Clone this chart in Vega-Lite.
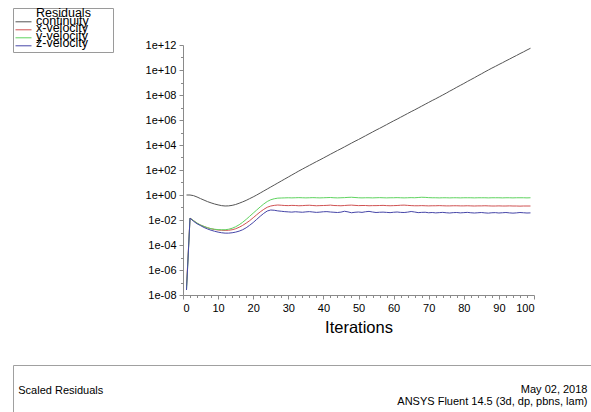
{
  "$schema": "https://vega.github.io/schema/vega-lite/v6.json",
  "padding": {"left": 12, "top": 7, "right": 0, "bottom": 0},
  "background": "white",
  "config": {"font": "Liberation Sans", "view": {"stroke": null}},
  "columns": 1,
  "spacing": 28,
  "concat": [
    {
      "width": 521,
      "height": 250,
      "data": {"values": [
        {"it":1,"continuity":1,"x-velocity":5.012e-8,"y-velocity":2.512e-8,"z-velocity":2.512e-8},
        {"it":2,"continuity":1,"x-velocity":0.01413,"y-velocity":0.01413,"z-velocity":0.01413},
        {"it":3,"continuity":0.891,"x-velocity":0.008913,"y-velocity":0.008913,"z-velocity":0.007943},
        {"it":4,"continuity":0.692,"x-velocity":0.005623,"y-velocity":0.005623,"z-velocity":0.005012},
        {"it":5,"continuity":0.513,"x-velocity":0.003981,"y-velocity":0.003981,"z-velocity":0.003548},
        {"it":6,"continuity":0.389,"x-velocity":0.00302,"y-velocity":0.00302,"z-velocity":0.002512},
        {"it":7,"continuity":0.295,"x-velocity":0.002399,"y-velocity":0.002399,"z-velocity":0.001905},
        {"it":8,"continuity":0.234,"x-velocity":0.001995,"y-velocity":0.001995,"z-velocity":0.001514},
        {"it":9,"continuity":0.191,"x-velocity":0.001738,"y-velocity":0.00182,"z-velocity":0.001259},
        {"it":10,"continuity":0.162,"x-velocity":0.001585,"y-velocity":0.001698,"z-velocity":0.001072},
        {"it":11,"continuity":0.141,"x-velocity":0.001514,"y-velocity":0.00166,"z-velocity":0.000955},
        {"it":12,"continuity":0.132,"x-velocity":0.001479,"y-velocity":0.00166,"z-velocity":0.0008913},
        {"it":13,"continuity":0.135,"x-velocity":0.001514,"y-velocity":0.00182,"z-velocity":0.0008913},
        {"it":14,"continuity":0.148,"x-velocity":0.00166,"y-velocity":0.002188,"z-velocity":0.000955},
        {"it":15,"continuity":0.174,"x-velocity":0.001995,"y-velocity":0.002884,"z-velocity":0.001072},
        {"it":16,"continuity":0.219,"x-velocity":0.00263,"y-velocity":0.004169,"z-velocity":0.001288},
        {"it":17,"continuity":0.282,"x-velocity":0.003715,"y-velocity":0.006607,"z-velocity":0.00166},
        {"it":18,"continuity":0.372,"x-velocity":0.005623,"y-velocity":0.01122,"z-velocity":0.002399},
        {"it":19,"continuity":0.513,"x-velocity":0.008913,"y-velocity":0.01995,"z-velocity":0.003802},
        {"it":20,"continuity":0.708,"x-velocity":0.01514,"y-velocity":0.03548,"z-velocity":0.00631},
        {"it":21,"continuity":1,"x-velocity":0.0263,"y-velocity":0.0631,"z-velocity":0.01122},
        {"it":22,"continuity":1.445,"x-velocity":0.04467,"y-velocity":0.1122,"z-velocity":0.01995},
        {"it":23,"continuity":2.089,"x-velocity":0.07079,"y-velocity":0.1905,"z-velocity":0.03388},
        {"it":24,"continuity":3.02,"x-velocity":0.1047,"y-velocity":0.302,"z-velocity":0.05248},
        {"it":25,"continuity":4.365,"x-velocity":0.1318,"y-velocity":0.4169,"z-velocity":0.0631},
        {"it":26,"continuity":6.31,"x-velocity":0.1479,"y-velocity":0.5012,"z-velocity":0.06026},
        {"it":27,"continuity":9.12,"x-velocity":0.1585,"y-velocity":0.5623,"z-velocity":0.0537},
        {"it":28,"continuity":13.18,"x-velocity":0.1514,"y-velocity":0.5754,"z-velocity":0.05012},
        {"it":29,"continuity":19.05,"x-velocity":0.1445,"y-velocity":0.5888,"z-velocity":0.04677},
        {"it":30,"continuity":27.54,"x-velocity":0.1413,"y-velocity":0.6026,"z-velocity":0.04467},
        {"it":31,"continuity":39.81,"x-velocity":0.1479,"y-velocity":0.5888,"z-velocity":0.04266},
        {"it":32,"continuity":57.54,"x-velocity":0.1445,"y-velocity":0.6026,"z-velocity":0.04571},
        {"it":33,"continuity":83.18,"x-velocity":0.138,"y-velocity":0.6166,"z-velocity":0.04365},
        {"it":34,"continuity":117.5,"x-velocity":0.1413,"y-velocity":0.6026,"z-velocity":0.04169},
        {"it":35,"continuity":166,"x-velocity":0.1479,"y-velocity":0.5888,"z-velocity":0.04467},
        {"it":36,"continuity":234.4,"x-velocity":0.1514,"y-velocity":0.6026,"z-velocity":0.04677},
        {"it":37,"continuity":331.1,"x-velocity":0.1445,"y-velocity":0.6166,"z-velocity":0.04365},
        {"it":38,"continuity":467.7,"x-velocity":0.138,"y-velocity":0.6026,"z-velocity":0.04074},
        {"it":39,"continuity":645.7,"x-velocity":0.1413,"y-velocity":0.5888,"z-velocity":0.04266},
        {"it":40,"continuity":912,"x-velocity":0.1445,"y-velocity":0.6026,"z-velocity":0.04571},
        {"it":41,"continuity":1288,"x-velocity":0.1479,"y-velocity":0.6166,"z-velocity":0.04677},
        {"it":42,"continuity":1820,"x-velocity":0.1549,"y-velocity":0.631,"z-velocity":0.04365},
        {"it":43,"continuity":2570,"x-velocity":0.1445,"y-velocity":0.6026,"z-velocity":0.04169},
        {"it":44,"continuity":3631,"x-velocity":0.1413,"y-velocity":0.5888,"z-velocity":0.03981},
        {"it":45,"continuity":5012,"x-velocity":0.138,"y-velocity":0.6026,"z-velocity":0.04266},
        {"it":46,"continuity":7079,"x-velocity":0.1445,"y-velocity":0.6166,"z-velocity":0.05012},
        {"it":47,"continuity":10000,"x-velocity":0.1514,"y-velocity":0.6457,"z-velocity":0.04467},
        {"it":48,"continuity":14130,"x-velocity":0.1549,"y-velocity":0.6607,"z-velocity":0.03802},
        {"it":49,"continuity":19950,"x-velocity":0.1479,"y-velocity":0.631,"z-velocity":0.04169},
        {"it":50,"continuity":27540,"x-velocity":0.1413,"y-velocity":0.6026,"z-velocity":0.04365},
        {"it":51,"continuity":38900,"x-velocity":0.1445,"y-velocity":0.5888,"z-velocity":0.04074},
        {"it":52,"continuity":54950,"x-velocity":0.1445,"y-velocity":0.6026,"z-velocity":0.04571},
        {"it":53,"continuity":77620,"x-velocity":0.138,"y-velocity":0.6026,"z-velocity":0.04898},
        {"it":54,"continuity":109600,"x-velocity":0.1413,"y-velocity":0.5888,"z-velocity":0.04365},
        {"it":55,"continuity":154900,"x-velocity":0.1413,"y-velocity":0.6026,"z-velocity":0.03981},
        {"it":56,"continuity":213800,"x-velocity":0.1445,"y-velocity":0.6166,"z-velocity":0.04169},
        {"it":57,"continuity":302000,"x-velocity":0.1479,"y-velocity":0.6026,"z-velocity":0.04266},
        {"it":58,"continuity":426600,"x-velocity":0.1413,"y-velocity":0.5888,"z-velocity":0.04074},
        {"it":59,"continuity":602600,"x-velocity":0.138,"y-velocity":0.6026,"z-velocity":0.0389},
        {"it":60,"continuity":851100,"x-velocity":0.1413,"y-velocity":0.6026,"z-velocity":0.04169},
        {"it":61,"continuity":1.175e6,"x-velocity":0.1445,"y-velocity":0.6166,"z-velocity":0.04365},
        {"it":62,"continuity":1.66e6,"x-velocity":0.1514,"y-velocity":0.6026,"z-velocity":0.04074},
        {"it":63,"continuity":2.344e6,"x-velocity":0.1549,"y-velocity":0.5888,"z-velocity":0.03981},
        {"it":64,"continuity":3.311e6,"x-velocity":0.1479,"y-velocity":0.6026,"z-velocity":0.04266},
        {"it":65,"continuity":4.677e6,"x-velocity":0.1413,"y-velocity":0.6166,"z-velocity":0.04786},
        {"it":66,"continuity":6.457e6,"x-velocity":0.138,"y-velocity":0.6026,"z-velocity":0.04365},
        {"it":67,"continuity":9.12e6,"x-velocity":0.138,"y-velocity":0.631,"z-velocity":0.0389},
        {"it":68,"continuity":1.288e7,"x-velocity":0.1413,"y-velocity":0.6607,"z-velocity":0.04074},
        {"it":69,"continuity":1.82e7,"x-velocity":0.138,"y-velocity":0.6457,"z-velocity":0.04169},
        {"it":70,"continuity":2.57e7,"x-velocity":0.1349,"y-velocity":0.6166,"z-velocity":0.03802},
        {"it":71,"continuity":3.631e7,"x-velocity":0.138,"y-velocity":0.6026,"z-velocity":0.03981},
        {"it":72,"continuity":5.012e7,"x-velocity":0.138,"y-velocity":0.6026,"z-velocity":0.03715},
        {"it":73,"continuity":7.079e7,"x-velocity":0.1413,"y-velocity":0.5888,"z-velocity":0.0389},
        {"it":74,"continuity":1e8,"x-velocity":0.138,"y-velocity":0.6026,"z-velocity":0.04074},
        {"it":75,"continuity":1.413e8,"x-velocity":0.1349,"y-velocity":0.6026,"z-velocity":0.03802},
        {"it":76,"continuity":2.042e8,"x-velocity":0.1349,"y-velocity":0.5888,"z-velocity":0.03631},
        {"it":77,"continuity":2.884e8,"x-velocity":0.138,"y-velocity":0.6026,"z-velocity":0.0389},
        {"it":78,"continuity":4.169e8,"x-velocity":0.138,"y-velocity":0.6026,"z-velocity":0.03981},
        {"it":79,"continuity":5.888e8,"x-velocity":0.1349,"y-velocity":0.5888,"z-velocity":0.03715},
        {"it":80,"continuity":8.318e8,"x-velocity":0.1349,"y-velocity":0.6026,"z-velocity":0.0389},
        {"it":81,"continuity":1.202e9,"x-velocity":0.138,"y-velocity":0.6026,"z-velocity":0.04074},
        {"it":82,"continuity":1.698e9,"x-velocity":0.1349,"y-velocity":0.6026,"z-velocity":0.03802},
        {"it":83,"continuity":2.399e9,"x-velocity":0.1318,"y-velocity":0.5888,"z-velocity":0.03631},
        {"it":84,"continuity":3.467e9,"x-velocity":0.1349,"y-velocity":0.6026,"z-velocity":0.03802},
        {"it":85,"continuity":4.898e9,"x-velocity":0.1349,"y-velocity":0.6026,"z-velocity":0.03981},
        {"it":86,"continuity":7.079e9,"x-velocity":0.138,"y-velocity":0.6026,"z-velocity":0.03715},
        {"it":87,"continuity":1e10,"x-velocity":0.1349,"y-velocity":0.5888,"z-velocity":0.03548},
        {"it":88,"continuity":1.413e10,"x-velocity":0.1318,"y-velocity":0.6026,"z-velocity":0.03802},
        {"it":89,"continuity":1.95e10,"x-velocity":0.1318,"y-velocity":0.6026,"z-velocity":0.0389},
        {"it":90,"continuity":2.754e10,"x-velocity":0.1349,"y-velocity":0.6026,"z-velocity":0.03631},
        {"it":91,"continuity":3.802e10,"x-velocity":0.1318,"y-velocity":0.5888,"z-velocity":0.03802},
        {"it":92,"continuity":5.37e10,"x-velocity":0.1318,"y-velocity":0.6026,"z-velocity":0.03981},
        {"it":93,"continuity":7.413e10,"x-velocity":0.1349,"y-velocity":0.6026,"z-velocity":0.03715},
        {"it":94,"continuity":1.047e11,"x-velocity":0.1318,"y-velocity":0.5888,"z-velocity":0.03548},
        {"it":95,"continuity":1.445e11,"x-velocity":0.1318,"y-velocity":0.6026,"z-velocity":0.03715},
        {"it":96,"continuity":2.042e11,"x-velocity":0.1288,"y-velocity":0.6026,"z-velocity":0.03981},
        {"it":97,"continuity":2.818e11,"x-velocity":0.1318,"y-velocity":0.6026,"z-velocity":0.03802},
        {"it":98,"continuity":3.981e11,"x-velocity":0.1318,"y-velocity":0.5888,"z-velocity":0.03631},
        {"it":99,"continuity":5.495e11,"x-velocity":0.1318,"y-velocity":0.6026,"z-velocity":0.03715}
      ]},
      "transform": [
        {"fold": ["continuity", "x-velocity", "y-velocity", "z-velocity"], "as": ["series", "value"]}
      ],
      "mark": {"type": "line", "strokeWidth": 1, "clip": true},
      "encoding": {
        "x": {
          "field": "it", "type": "quantitative",
          "scale": {"domain": [0, 100], "range": [170, 521], "nice": false, "zero": false},
          "axis": {
            "values": [0, 2, 4, 6, 8, 10, 12, 14, 16, 18, 20, 22, 24, 26, 28, 30, 32, 34, 36, 38, 40, 42, 44, 46, 48, 50, 52, 54, 56, 58, 60, 62, 64, 66, 68, 70, 72, 74, 76, 78, 80, 82, 84, 86, 88, 90, 92, 94, 96, 98, 100],
            "labelExpr": "datum.value % 10 === 0 ? datum.label : ''",
            "labelOverlap": false,
            "title": "Iterations", "titleFontSize": 16.5, "titleFontWeight": "normal", "titleColor": "black",
            "titlePadding": 6,
            "labelFontSize": 11, "labelColor": "black", "labelPadding": 3,
            "tickSize": {"condition": {"test": "datum.value % 10 === 0", "value": 4}, "value": 2.5},
            "tickColor": "#8a8a8a", "domainColor": "#8a8a8a", "grid": false
          }
        },
        "y": {
          "field": "value", "type": "quantitative",
          "scale": {"type": "log", "domain": [1e-8, 1e12], "nice": false},
          "axis": {
            "offset": -170,
            "values": [1e-8, 1e-7, 1e-6, 1e-5, 1e-4, 1e-3, 1e-2, 1e-1, 1, 10, 1e2, 1e3, 1e4, 1e5, 1e6, 1e7, 1e8, 1e9, 1e10, 1e11, 1e12],
            "labelExpr": "round(log(datum.value)/LN10) % 2 === 0 ? '1e' + (datum.value >= 1 ? '+' : '-') + (abs(round(log(datum.value)/LN10)) < 10 ? '0' : '') + abs(round(log(datum.value)/LN10)) : ''",
            "labelOverlap": false,
            "title": null,
            "labelFontSize": 11, "labelColor": "black", "labelPadding": 3,
            "tickSize": {"condition": {"test": "round(log(datum.value)/LN10) % 2 === 0", "value": 4}, "value": 2.5},
            "tickColor": "#8a8a8a", "domainColor": "#8a8a8a", "grid": false
          }
        },
        "color": {
          "field": "series", "type": "nominal",
          "scale": {"domain": ["Residuals", "continuity", "x-velocity", "y-velocity", "z-velocity"],
                    "range": ["transparent", "#555555", "#d05252", "#5fd35f", "#4646a8"]},
          "legend": {
            "title": ["Residuals\u2800\u2800", "continuity", "x-velocity", "y-velocity", "z-velocity"],
            "orient": "none", "legendX": 0, "legendY": -37,
            "strokeColor": "#9a9a9a", "padding": 2,
            "titleOrient": "right", "titleAnchor": "start", "titleBaseline": "line-top", "titleAlign": "left",
            "titleFontSize": 12.5, "titleLineHeight": 7.6, "titleFontWeight": "normal", "titleColor": "black", "titlePadding": 4,
            "labelExpr": "''", "labelFontSize": 1, "labelOffset": 0,
            "clipHeight": 7.6,
            "symbolType": "stroke", "symbolSize": 256, "symbolStrokeWidth": 1,
            "rowPadding": 0
          }
        }
      }
    },
    {
      "width": 585,
      "height": 55,
      "view": {"stroke": "#a0a0a0", "strokeWidth": 1},
      "layer": [
        {
          "data": {"values": [{"label": "Scaled Residuals"}]},
          "mark": {"type": "text", "align": "left", "baseline": "middle", "fontSize": 11, "color": "black"},
          "encoding": {
            "text": {"field": "label"},
            "x": {"datum": 0.009, "type": "quantitative", "scale": {"domain": [0, 1]}, "axis": null},
            "y": {"datum": 0.527, "type": "quantitative", "scale": {"domain": [0, 1]}, "axis": null}
          }
        },
        {
          "data": {"values": [{"label": "May 02, 2018"}]},
          "mark": {"type": "text", "align": "right", "baseline": "middle", "fontSize": 11, "color": "black"},
          "encoding": {
            "text": {"field": "label"},
            "x": {"datum": 0.982, "type": "quantitative"},
            "y": {"datum": 0.545, "type": "quantitative"}
          }
        },
        {
          "data": {"values": [{"label": "ANSYS Fluent 14.5 (3d, dp, pbns, lam)"}]},
          "mark": {"type": "text", "align": "right", "baseline": "middle", "fontSize": 11, "color": "black"},
          "encoding": {
            "text": {"field": "label"},
            "x": {"datum": 0.982, "type": "quantitative"},
            "y": {"datum": 0.32, "type": "quantitative"}
          }
        }
      ]
    }
  ]
}
